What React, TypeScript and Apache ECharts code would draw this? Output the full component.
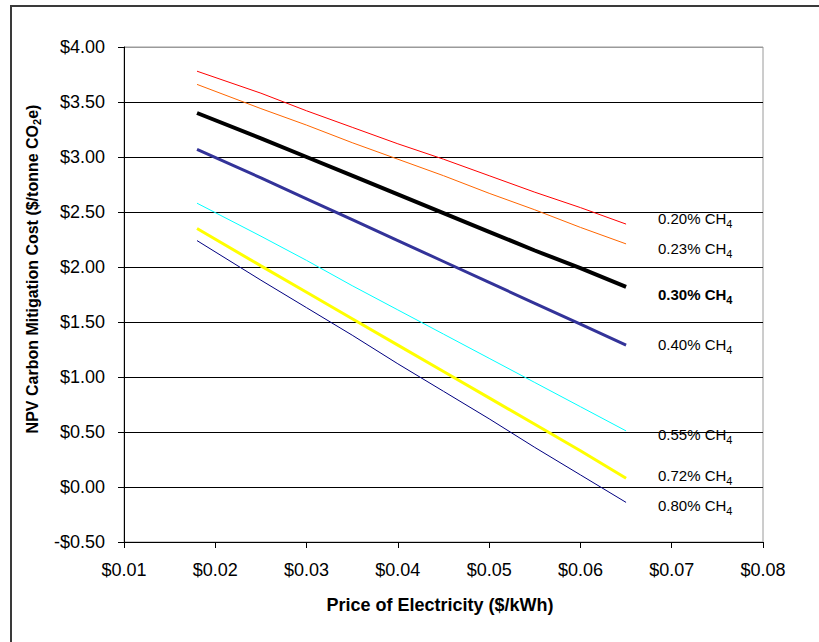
import React, { useEffect, useRef } from "react";
import * as echarts from "echarts";

const xValues = [0.018, 0.025, 0.03, 0.035, 0.04, 0.045, 0.05, 0.055, 0.06, 0.065];
const ch4_020 = [3.78, 3.58, 3.42, 3.27, 3.12, 2.98, 2.83, 2.68, 2.54, 2.39];
const ch4_023 = [3.66, 3.44, 3.29, 3.13, 2.98, 2.83, 2.67, 2.52, 2.36, 2.21];
const ch4_030 = [3.4, 3.17, 3.0, 2.83, 2.66, 2.49, 2.32, 2.15, 1.99, 1.82];
const ch4_040 = [3.07, 2.81, 2.62, 2.43, 2.24, 2.05, 1.86, 1.67, 1.48, 1.29];
const ch4_055 = [2.58, 2.28, 2.06, 1.83, 1.61, 1.39, 1.17, 0.95, 0.73, 0.51];
const ch4_072 = [2.35, 2.01, 1.77, 1.53, 1.29, 1.05, 0.81, 0.57, 0.33, 0.08];
const ch4_080 = [2.24, 1.88, 1.63, 1.38, 1.12, 0.87, 0.62, 0.36, 0.11, -0.14];

const seriesNames = ["0.20%", "0.23%", "0.30%", "0.40%", "0.55%", "0.72%", "0.80%"];
const seriesValues = [ch4_020, ch4_023, ch4_030, ch4_040, ch4_055, ch4_072, ch4_080];
const seriesColors = ["#FF0000", "#FF6600", "#000000", "#333399", "#00FFFF", "#FFFF00", "#000080"];
const seriesWidths = [1, 1, 4, 3, 1, 3, 1];
const labelY = [221, 251, 297, 347, 437, 478, 508];

const xTitle = "Price of Electricity ($/kWh)";
const FONT = "'Liberation Sans', Arial, sans-serif";

const fmt = (v: number) => (v < 0 ? "-$" + Math.abs(v).toFixed(2) : "$" + v.toFixed(2));

export default function App() {
  const ref = useRef<HTMLDivElement>(null);
  useEffect(() => {
    document.body.style.margin = "0";
    const chart = echarts.init(ref.current!, null, { renderer: "svg" });
    const gridColors = ["#000", "#000", "#000", "#000", "#000", "#000", "#000", "#000", "#000", "#9a9a9a"];
    const labels = seriesNames.map((n, i) => ({
      type: "text",
      left: 658,
      top: labelY[i] - 10,
      style: {
        text: `{a|${n} CH}{s|4}`,
        fontFamily: FONT,
        fill: "#000",
        rich: {
          a: { fontSize: 15, fontFamily: FONT, fontWeight: i === 2 ? "bold" : "normal", fill: "#000" },
          s: { fontSize: 11, fontFamily: FONT, fontWeight: i === 2 ? "bold" : "normal", fill: "#000", padding: [10, 0, 0, 0] },
        },
      },
    }));
    chart.setOption({
      animation: false,
      backgroundColor: "#fff",
      grid: { left: 124, top: 47, right: 56, bottom: 100, show: true, borderColor: "#9a9a9a", borderWidth: 1 },
      xAxis: {
        type: "value",
        min: 0.01,
        max: 0.08,
        interval: 0.01,
        axisLine: { show: true, onZero: false, lineStyle: { color: "#000", width: 1 } },
        axisTick: { show: true, length: 6, lineStyle: { color: "#000" } },
        splitLine: { show: false },
        axisLabel: { formatter: fmt, fontSize: 18, fontFamily: FONT, color: "#000", margin: 19 },
      },
      yAxis: {
        type: "value",
        min: -0.5,
        max: 4,
        interval: 0.5,
        axisLine: { show: true, onZero: false, lineStyle: { color: "#000", width: 1 } },
        axisTick: { show: true, length: 6, lineStyle: { color: "#000" } },
        splitLine: { show: true, lineStyle: { color: gridColors, width: 1 } },
        axisLabel: { formatter: fmt, fontSize: 18, fontFamily: FONT, color: "#000", margin: 19 },
      },
      series: seriesValues.map((vals, i) => ({
        type: "line",
        name: seriesNames[i],
        data: xValues.map((x, j) => [x, vals[j]]),
        showSymbol: false,
        symbol: "none",
        lineStyle: { color: seriesColors[i], width: seriesWidths[i] },
        z: 3,
      })),
      graphic: [
        {
          type: "rect",
          shape: { x: 11, y: 6, width: 900, height: 800 },
          style: { fill: "none", stroke: "#3a3a3a", lineWidth: 2 },
          silent: true,
        },
        {
          type: "text",
          x: 440,
          y: 605,
          style: {
            text: xTitle,
            fontFamily: FONT,
            fontSize: 18,
            fontWeight: "bold",
            fill: "#000",
            align: "center",
            verticalAlign: "middle",
          },
        },
        {
          type: "text",
          x: 32,
          y: 269,
          rotation: Math.PI / 2,
          style: {
            text: "{a|NPV Carbon Mitigation Cost ($/tonne CO}{s|2}{a|e)}",
            fontFamily: FONT,
            align: "center",
            verticalAlign: "middle",
            fill: "#000",
            rich: {
              a: { fontSize: 16, fontWeight: "bold", fontFamily: FONT, fill: "#000" },
              s: { fontSize: 11, fontWeight: "bold", fontFamily: FONT, fill: "#000", padding: [9, 0, 0, 0] },
            },
          },
        },
        ...labels,
      ],
    });
    return () => chart.dispose();
  }, []);
  return <div ref={ref} style={{ width: 819, height: 642 }} />;
}
